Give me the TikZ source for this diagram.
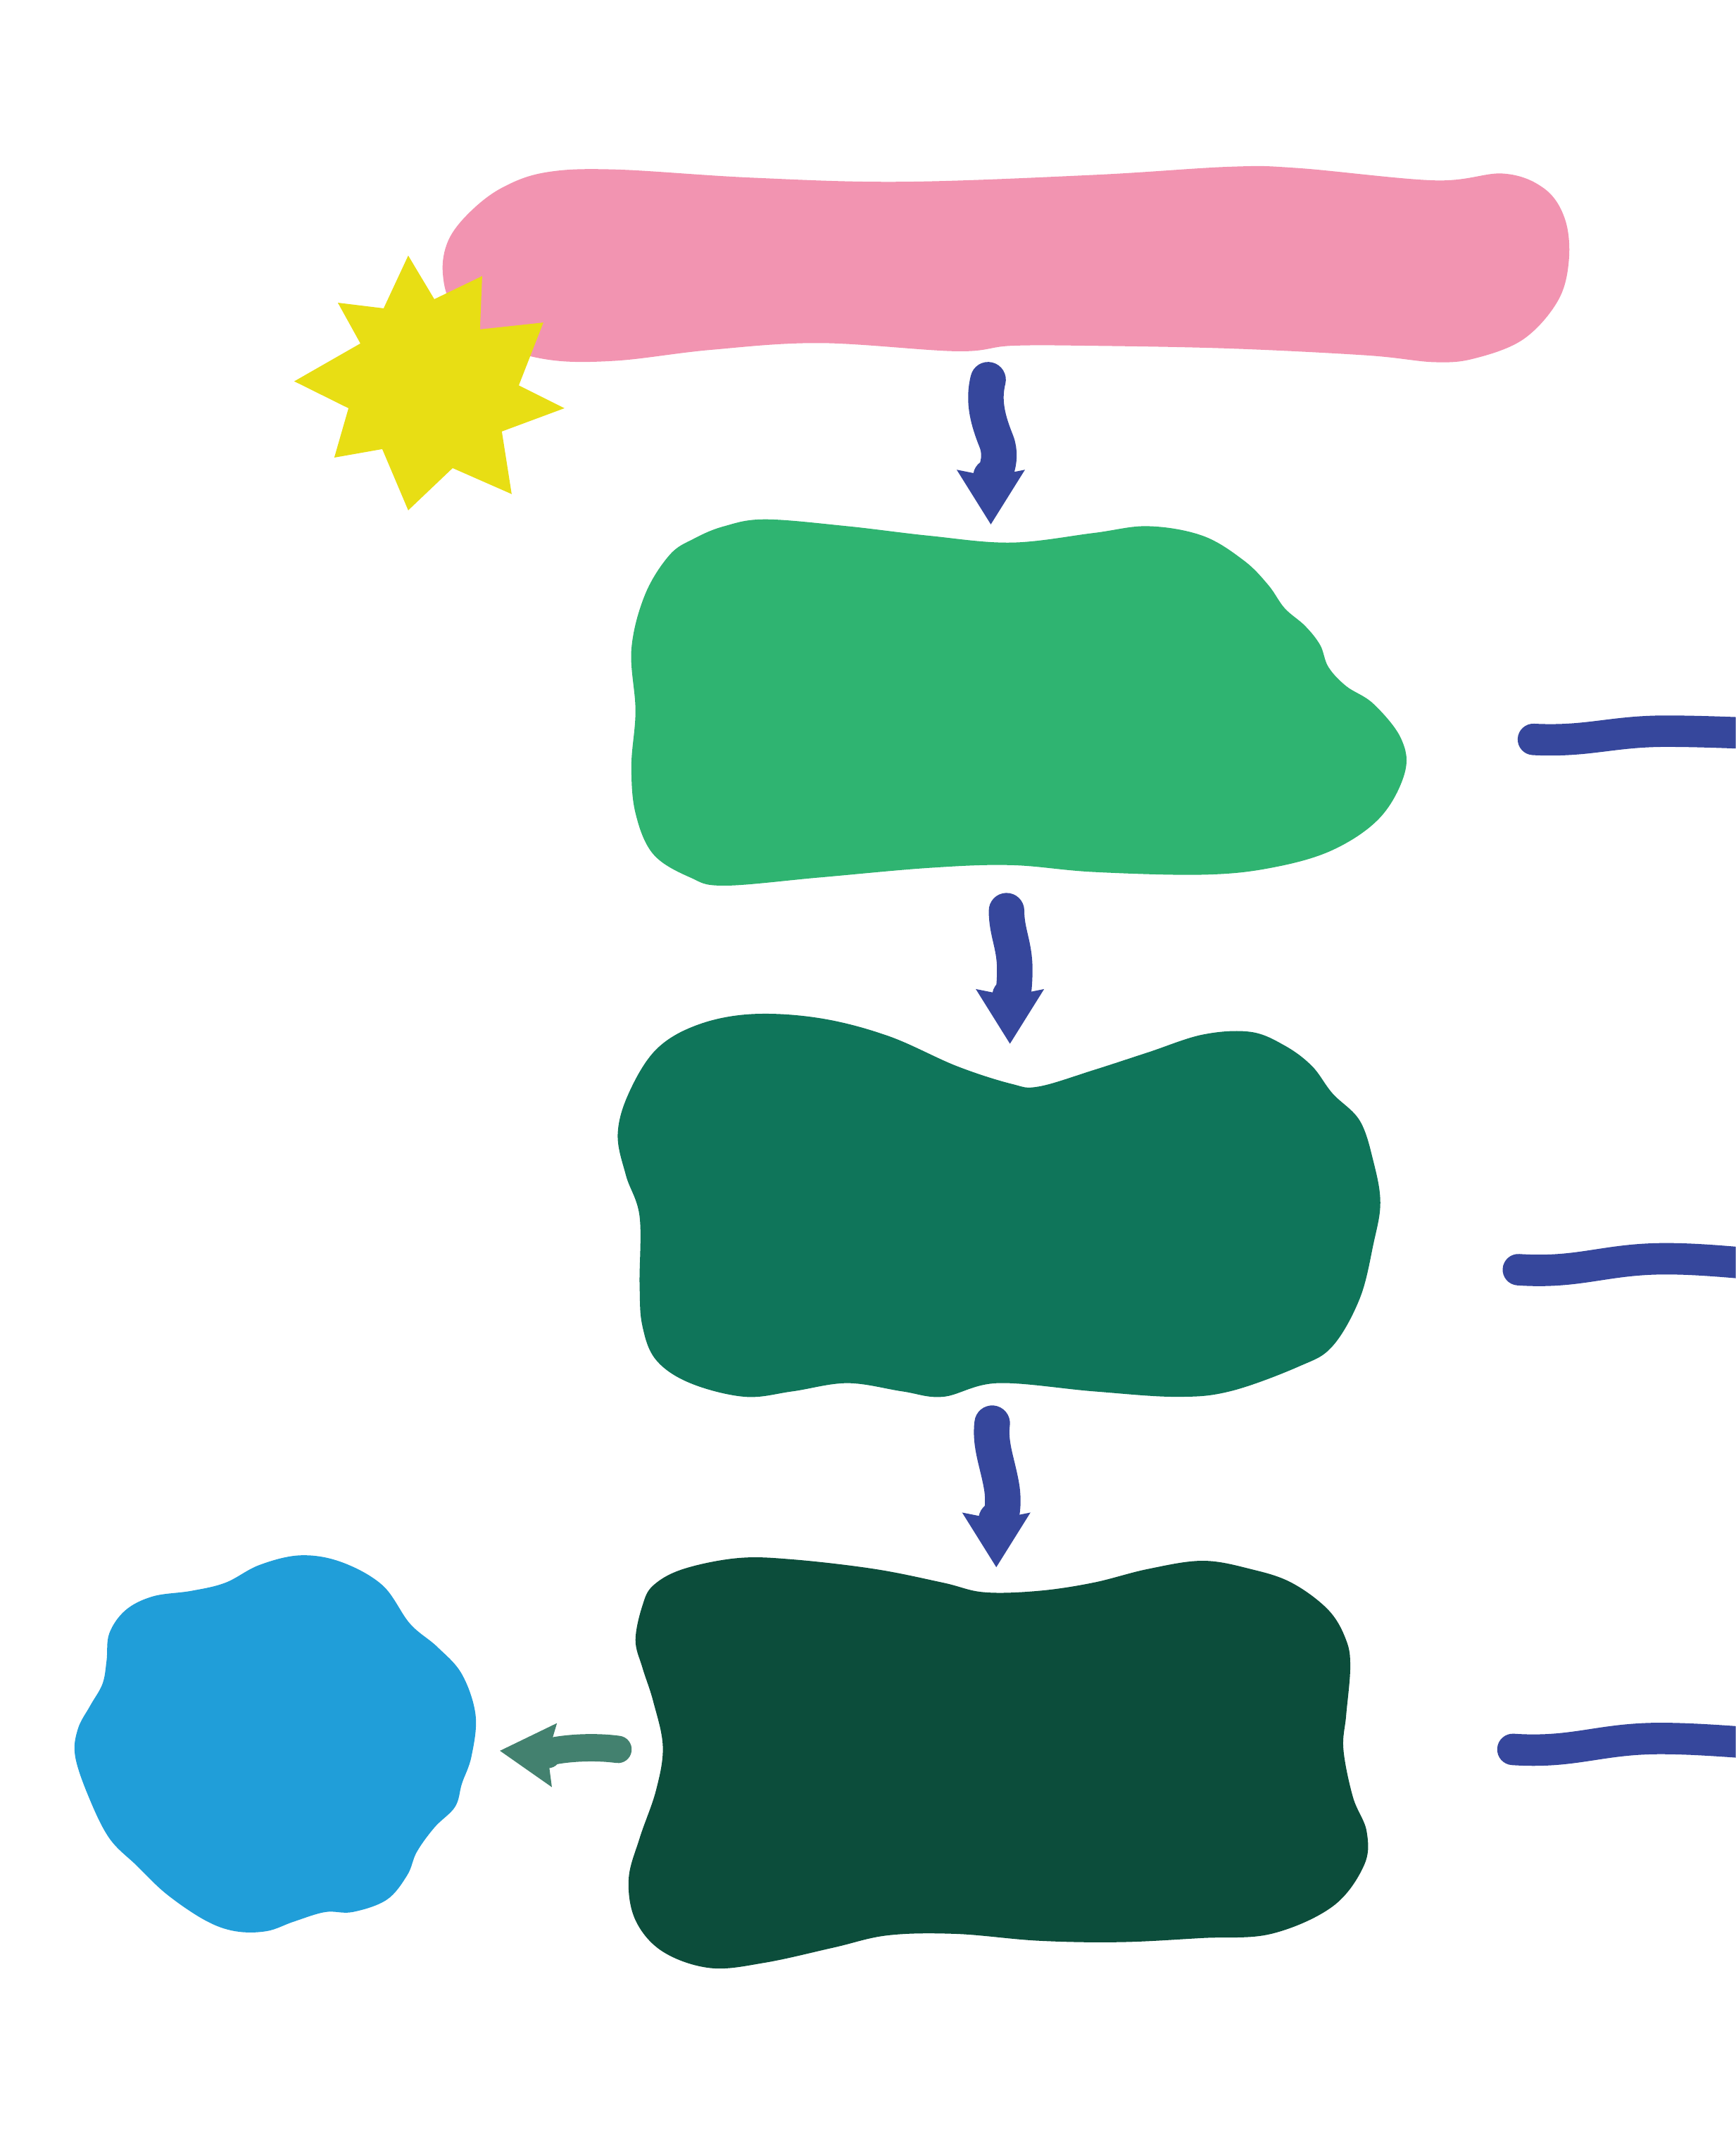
\documentclass[tikz,border=0pt]{standalone}
\usepackage{xcolor}
\usepackage{tikz}
\usetikzlibrary{shapes.geometric, arrows.meta, positioning}
\definecolor{PinkFill}{HTML}{F294B1}
\definecolor{StarYellow}{HTML}{E8DE14}
\definecolor{LeafGreen}{HTML}{2FB471}
\definecolor{SeaGreen}{HTML}{0F755A}
\definecolor{DeepGreen}{HTML}{0C4D3B}
\definecolor{SkyBlue}{HTML}{209ED9}
\definecolor{InkBlue}{HTML}{36479C}
\definecolor{TealGray}{HTML}{43816F}

\begin{document}
\begin{tikzpicture}[
    x=0.02cm, y=-0.02cm,
    blob/.style={rectangle, inner sep=0pt, draw=none},
    burst/.style={fill=StarYellow},
    flow/.style={draw=InkBlue, line width=0.52cm, line cap=round,
                 -{Stealth[length=0.8cm, width=1.0cm, inset=0.1cm, line width=0pt]}},
    side/.style={draw=TealGray, line width=0.4cm, line cap=round,
                 -{Stealth[length=0.8cm, width=0.94cm, inset=0.1cm, line width=0pt]}},
    link/.style={draw=InkBlue, line width=0.46cm, line cap=round}
]
\useasboundingbox (0,0) rectangle (1270,1568);
\clip (0,0) rectangle (1270,1568);

% the blobs
\node[blob, minimum width=16.5cm, minimum height=2.9cm] (top) at (735,195) {};
\node[blob, minimum width=11.4cm, minimum height=5.36cm] (g1) at (745,515) {};
\node[blob, minimum width=11.16cm, minimum height=5.64cm] (g2) at (731,882) {};
\node[blob, minimum width=10.9cm, minimum height=6cm] (g3) at (729,1290) {};
\node[blob, minimum width=5.86cm, minimum height=5.5cm] (pool) at (201,1276) {};

\fill[PinkFill] plot[smooth cycle, tension=0.6] coordinates {
    (400,126) (450,124) (550,130) (660,133) (800,128) (900,122) (950,123) (1050,132)
    (1100,127) (1130,138) (1145,160) (1148,190) (1140,220) (1115,248) (1080,262)
    (1050,265) (1000,260) (900,255) (800,253) (740,253) (700,257) (600,251)
    (520,256) (450,264) (400,263) (360,250) (332,225) (324,200) (328,176) (344,155)
    (368,137)};
\fill[LeafGreen] plot[smooth cycle, tension=0.6] coordinates {
    (490,406) (472,435) (462,475) (465,520) (462,560) (465,595) (478,625) (505,642)
    (530,648) (600,642) (680,635) (740,633) (800,638) (880,640) (930,635) (975,622)
    (1010,598) (1028,565) (1025,540) (1005,515) (985,502) (972,488) (966,472)
    (955,458) (940,445) (928,428) (910,410) (880,392) (840,385) (800,390) (740,397)
    (680,392) (620,385) (560,380) (530,385) (508,394)};
\fill[SeaGreen] plot[smooth cycle, tension=0.6] coordinates {
    (460,800) (452,830) (458,860) (468,890) (468,940) (470,970) (480,995) (505,1012)
    (545,1022) (580,1018) (620,1012) (660,1018) (690,1022) (730,1012) (800,1018)
    (860,1022) (900,1018) (950,1000) (975,985) (995,950) (1005,910) (1010,880)
    (1005,850) (995,820) (975,800) (960,780) (940,765) (915,755) (880,757) (840,770)
    (800,783) (760,795) (740,793) (700,780) (650,758) (600,745) (550,742) (510,750)
    (480,768)};
\fill[DeepGreen] plot[smooth cycle, tension=0.6] coordinates {
    (470,1175) (465,1200) (470,1220) (478,1245) (485,1278) (480,1310) (468,1345)
    (460,1375) (465,1405) (485,1428) (520,1440) (560,1436) (610,1425) (650,1416)
    (700,1415) (760,1420) (820,1421) (880,1418) (930,1415) (975,1395) (998,1365)
    (1000,1340) (990,1315) (983,1280) (985,1255) (988,1220) (985,1200) (972,1178)
    (945,1158) (915,1148) (880,1142) (840,1148) (800,1158) (760,1164) (720,1165)
    (690,1158) (640,1148) (580,1141) (540,1140) (500,1148) (478,1160)};
\fill[SkyBlue] plot[smooth cycle, tension=0.6] coordinates {
    (80,1195) (92,1178) (112,1168) (140,1164) (165,1158) (190,1145) (220,1138)
    (250,1143) (280,1160) (300,1188) (320,1205) (338,1225) (348,1255) (345,1285)
    (338,1305) (333,1322) (318,1337) (305,1355) (298,1372) (283,1390) (258,1399)
    (238,1399) (215,1406) (195,1413) (172,1413) (150,1405) (122,1386) (100,1365)
    (80,1345) (65,1315) (55,1285) (57,1265) (66,1248) (75,1232) (78,1215)};

% the star on the corner of the top bar
\fill[burst] (298.7,187) -- (317.8,218.9) -- (352.8,202) -- (351.2,241)
    -- (397.6,236) -- (379.6,282) -- (413,298.7) -- (367.2,315.7)
    -- (374.4,361.5) -- (331.2,342.5) -- (298.7,373.4) -- (279.7,328.6)
    -- (244.6,334.8) -- (255,298.7) -- (215.3,279) -- (263.7,251.3)
    -- (247.2,221.5) -- (280.7,225.6) -- cycle;

% arrows down the column
\draw[flow] ([shift={(-12,10)}]top.south)
    .. controls +(-4,16) and +(-6,-15) .. ++(6,45)
    .. controls +(6,15) and +(0,-30) .. ([shift={(-20,3)}]g1.north);
\draw[flow] ([shift={(-8.5,17)}]g1.south)
    .. controls +(0,16) and +(0,-18) .. ++(6,43)
    .. controls +(0,20) and +(0,-25) .. ([shift={(8,23)}]g2.north);
\draw[flow] ([shift={(-5,18)}]g2.south)
    .. controls +(-2,16) and +(-3,-18) .. ++(7,47)
    .. controls +(3,20) and +(0,-25) .. ([shift={(0,7)}]g3.north);

\draw[side] ([shift={(-4,-10)}]g3.west)
    .. controls +(-30,-4) and +(25,2) .. ([shift={(18,5)}]pool.east);

% strokes running off the right edge
\coordinate (out1) at (1122,541);
\coordinate (end1) at (1340,538);
\coordinate (out2) at (1111,929);
\coordinate (end2) at (1340,928);
\coordinate (out3) at (1107,1280);
\coordinate (end3) at (1340,1278);

\draw[link] (out1) .. controls +(40,2) and +(-40,0) .. ++(97,-6)
    .. controls +(40,0) and +(-40,0) .. (end1);
\draw[link] (out2) .. controls +(45,3) and +(-45,0) .. ++(108,-8)
    .. controls +(40,0) and +(-40,0) .. (end2);
\draw[link] (out3) .. controls +(45,3) and +(-45,0) .. ++(108,-8)
    .. controls +(40,0) and +(-40,0) .. (end3);

\end{tikzpicture}
\end{document}
